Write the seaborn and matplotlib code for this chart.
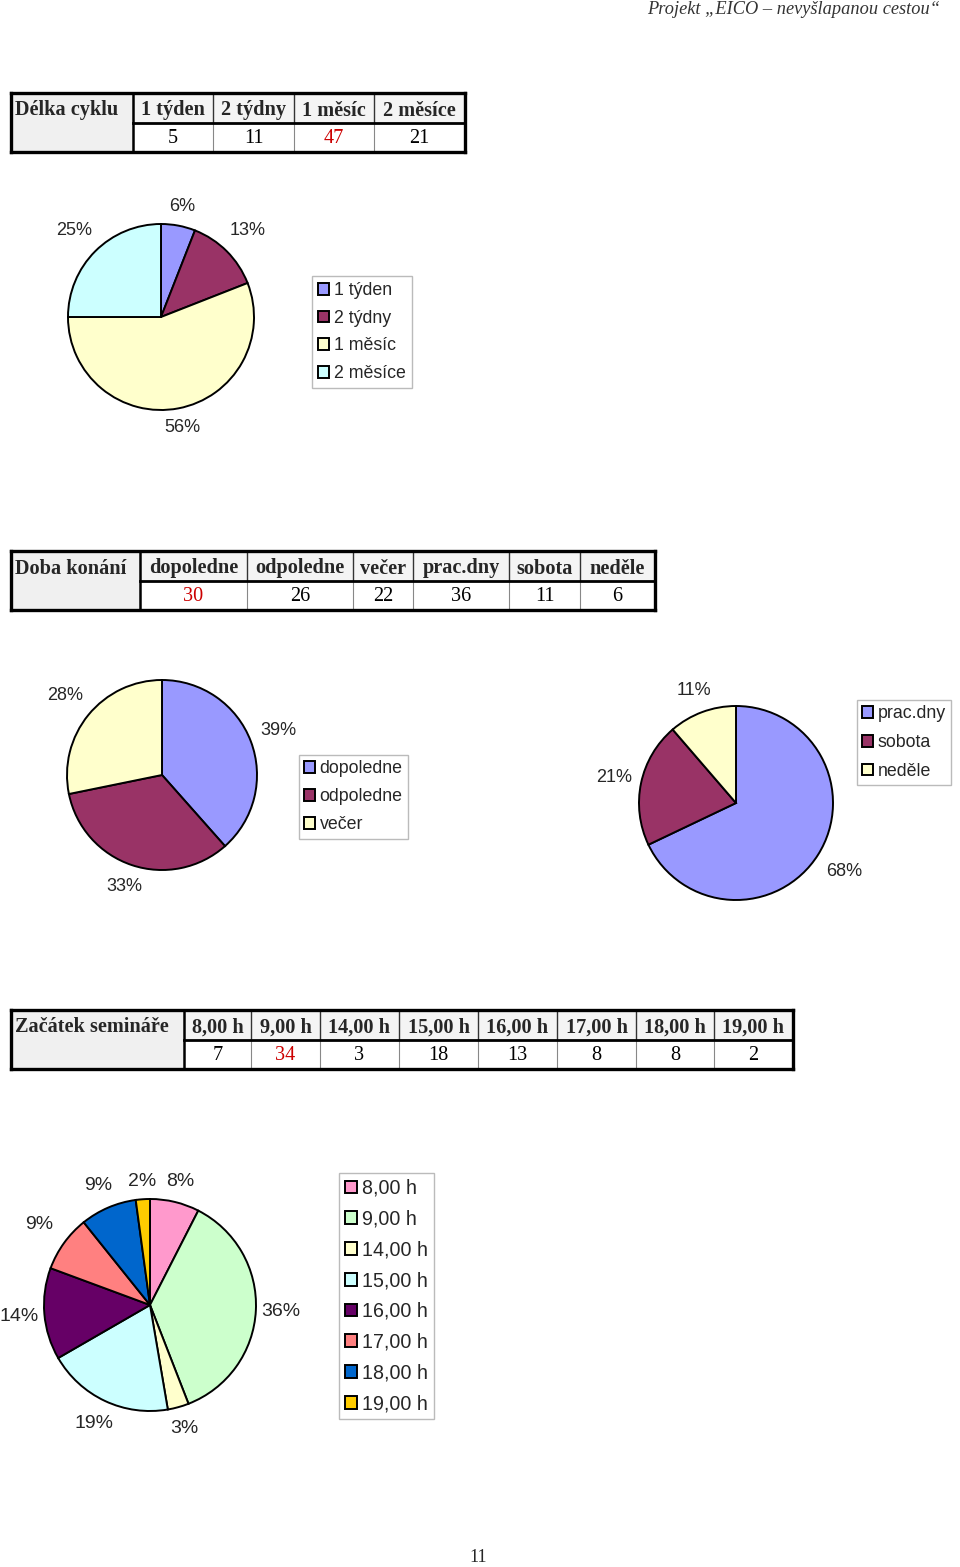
import matplotlib
matplotlib.use("Agg")
import numpy as np
import matplotlib.pyplot as plt
from matplotlib.patches import Rectangle
from matplotlib.lines import Line2D
import seaborn as sns

# ---------------- data ----------------
cycle_title = "Délka cyklu"
cycle_labels = ["1 týden", "2 týdny", "1 měsíc", "2 měsíce"]
cycle_values = [5, 11, 47, 21]
cycle_pct = ["6%", "13%", "56%", "25%"]
cycle_red = [2]

time_title = "Doba konání"
time_labels = ["dopoledne", "odpoledne", "večer"]
time_values = [30, 26, 22]
time_pct = ["39%", "33%", "28%"]

day_labels = ["prac.dny", "sobota", "neděle"]
day_values = [36, 11, 6]
day_pct = ["68%", "21%", "11%"]
time_red = [0]

start_title = "Začátek semináře"
start_labels = ["8,00 h", "9,00 h", "14,00 h", "15,00 h", "16,00 h", "17,00 h", "18,00 h", "19,00 h"]
start_values = [7, 34, 3, 18, 13, 8, 8, 2]
start_pct = ["8%", "36%", "3%", "19%", "14%", "9%", "9%", "2%"]
start_red = [1]

cycle_colors = sns.color_palette(["#9999FF", "#993366", "#FFFFCC", "#CCFFFF"])
time_colors = sns.color_palette(["#9999FF", "#993366", "#FFFFCC"])
day_colors = sns.color_palette(["#9999FF", "#993366", "#FFFFCC"])
start_colors = sns.color_palette(["#FF99CC", "#CCFFCC", "#FFFFCC", "#CCFFFF",
                                  "#660066", "#FF8080", "#0066CC", "#FFCC00"])

header_text = "Projekt \u201eEICO \u2013 nevyšlapanou cestou\u201c"
page_number = "11"

# ---------------- style ----------------
sns.set_theme(style="white")
SANS = ["Liberation Sans", "DejaVu Sans"]
SERIF = ["Liberation Serif", "DejaVu Serif"]
plt.rcParams["font.family"] = SANS

W, H = 960, 1567
fig = plt.figure(figsize=(W / 100, H / 100), dpi=100)
fig.patch.set_facecolor("white")


def fx(x):
    return x / W


def fy(y):
    return 1 - y / H


def line(x0, y0, x1, y1, color="black", lw=1.0):
    fig.add_artist(Line2D([fx(x0), fx(x1)], [fy(y0), fy(y1)], transform=fig.transFigure,
                          color=color, linewidth=lw, solid_capstyle="projecting"))


def rect(x0, y0, x1, y1, fc):
    fig.add_artist(Rectangle((fx(x0), fy(y1)), (x1 - x0) / W, (y1 - y0) / H,
                             transform=fig.transFigure, facecolor=fc, edgecolor="none"))


def table(title, headers, values, red_idx, edges, top, mid, bot, fs=14.6):
    x0, x1 = edges[0], edges[-1]
    rect(x0, top, edges[1], bot, "#F0F0F0")
    rect(edges[1], top, x1, mid, "#F4F4F4")
    for e in edges[2:-1]:
        line(e, top, e, mid, "#333333", 1.0)
        line(e, mid, e, bot, "#888888", 0.8)
    line(edges[1], top, edges[1], bot, "black", 1.8)
    line(edges[1], mid, x1, mid, "black", 2.0)
    line(x0, top, x1, top, "black", 2.4)
    line(x0, bot, x1, bot, "black", 2.4)
    line(x0, top, x0, bot, "black", 2.4)
    line(x1, top, x1, bot, "black", 2.4)
    yh = (top + mid) / 2 + 2.5
    yv = (mid + bot) / 2 + 1.0
    fig.text(fx(x0 + 4), fy(yh), title, ha="left", va="center",
             family=SERIF, fontsize=fs, fontweight="bold")
    for i, (h, v) in enumerate(zip(headers, values)):
        cx = (edges[i + 1] + edges[i + 2]) / 2
        fig.text(fx(cx), fy(yh), h, ha="center", va="center",
                 family=SERIF, fontsize=fs, fontweight="bold")
        fig.text(fx(cx), fy(yv), str(v), ha="center", va="center",
                 family=SERIF, fontsize=fs, color="#CC0000" if i in red_idx else "black")


def pie(cx, cy, r, values, colors, pct, fs):
    pad = 1.06
    ax = fig.add_axes([fx(cx - r * pad), fy(cy + r * pad), 2 * r * pad / W, 2 * r * pad / H])
    wedges, texts = ax.pie(values, colors=colors, labels=pct, startangle=90,
                           counterclock=False, labeldistance=1.25,
                           wedgeprops=dict(edgecolor="black", linewidth=1.4),
                           textprops=dict(fontsize=fs, family=SANS))
    # place labels just outside the rim (further out where the text is wide)
    for w, t in zip(wedges, texts):
        ang = np.deg2rad((w.theta1 + w.theta2) / 2)
        d = (r + 16 + 10 * abs(np.sin(2 * ang)) + 8 * np.cos(ang) ** 2) / r
        t.set_position((d * np.cos(ang), d * np.sin(ang)))
        t.set_ha("center")
        t.set_va("center")
    ax.set_xlim(-pad, pad)
    ax.set_ylim(-pad, pad)
    ax.axis("off")
    return wedges


def legend(wedges, labels, x, y, fs, spacing, bpad=0.2):
    leg = fig.legend(wedges, labels, loc="upper left",
                     bbox_to_anchor=(fx(x), fy(y)), bbox_transform=fig.transFigure,
                     borderaxespad=0, prop=dict(family=SANS, size=fs), frameon=True,
                     fancybox=False, edgecolor="#BBBBBB", framealpha=1,
                     handlelength=0.62, handleheight=0.62, handletextpad=0.25,
                     labelspacing=spacing, borderpad=bpad)
    leg.get_frame().set_linewidth(1.0)
    return leg


# header & footer
fig.text(fx(940), fy(9), header_text, ha="right", va="center", family=SERIF,
         fontsize=13.2, style="italic", color="#333333")
fig.text(fx(478), fy(1557), page_number, ha="center", va="center", family=SERIF,
         fontsize=13)

# table 1 + pie 1
table(cycle_title, cycle_labels, cycle_values, cycle_red,
      [11, 133, 213, 294, 374, 465], 93, 123, 152)
w1 = pie(161, 317, 93, cycle_values, cycle_colors, cycle_pct, 13)
legend(w1, cycle_labels, 312, 276, 12.75, 0.6, bpad=0.35)

# table 2 + pies 2
table(time_title, time_labels + day_labels, time_values + day_values, time_red,
      [11, 140, 247, 353, 413, 509, 580, 655], 551, 581, 610)
w2 = pie(162, 775, 95, time_values, time_colors, time_pct, 13)
legend(w2, time_labels, 299, 755, 12.75, 0.62, bpad=0.3)
w3 = pie(736, 803, 97, day_values, day_colors, day_pct, 13)
legend(w3, day_labels, 857, 700, 12.75, 0.66, bpad=0.3)

# table 3 + pie 3
table(start_title, start_labels, start_values, start_red,
      [11, 184, 251, 320, 399, 478, 557, 636, 714, 793], 1010, 1040, 1069)
w4 = pie(150, 1305, 106, start_values, start_colors, start_pct, 14)
legend(w4, start_labels, 339, 1173, 14.1, 0.6, bpad=0.3)

fig.savefig("out.png", dpi=100, facecolor="white")
